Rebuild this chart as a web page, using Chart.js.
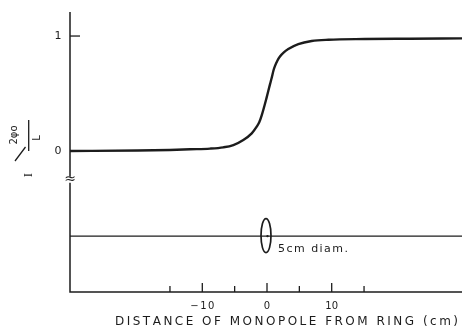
<!DOCTYPE html>
<html><head><meta charset="utf-8">
<script src="https://cdn.jsdelivr.net/npm/chart.js@4.4.1/dist/chart.umd.min.js"></script>
<style>html,body{margin:0;padding:0;background:#fff;}canvas{display:block;}</style>
</head><body>
<canvas id="c" width="464" height="329"></canvas>
<script>
// ---- data ----
const curveX = [-30.45, -20, -15, -11.9, -8.8, -6.75, -5.2, -3.66, -2.36, -1.59, -1.2, -0.82, -0.05, 0.46, 0.73, 1.0, 1.24, 1.6, 2.0, 2.6, 3.29, 4.84, 6.9, 9.5, 15.1, 22, 30.14];
const curveY = [0.0, 0.004, 0.009, 0.015, 0.021, 0.032, 0.052, 0.096, 0.154, 0.212, 0.25, 0.31, 0.467, 0.58, 0.637, 0.70, 0.74, 0.785, 0.822, 0.858, 0.887, 0.93, 0.957, 0.968, 0.974, 0.977, 0.98];
const ringLineX = [-30.45, 30.14];
const ringLineY = [-0.74, -0.74];
const ringCenterX = 0;
const ringDiameterCm = 5;
const xMajorTicks = [-10, 0, 10];
const xMajorLabels = ['\u221210', '0', '10'];
const xMinorTicks = [-15, -5, 5, 15];
const yTicks = [1, 0];
const yTickLabels = ['1', '0'];
const yBreakValue = -0.25;
const xTitle = 'DISTANCE OF MONOPOLE FROM RING (cm)';
const ringLabel = '5cm diam.';

const INK = '#1c1c1c';
const X_MIN = -30.45, X_MAX = 30.14, Y_MIN = -1.226, Y_MAX = 1.209;
const FONT = '"DejaVu Sans", "Liberation Sans", sans-serif';

function spacedText(ctx, text, left, cy, width) {
  const ws = [...text].map(ch => ctx.measureText(ch).width);
  const total = ws.reduce((a, b) => a + b, 0);
  const sp = text.length > 1 ? (width - total) / (text.length - 1) : 0;
  let x = left;
  ctx.textAlign = 'left';
  ctx.textBaseline = 'middle';
  [...text].forEach((ch, i) => { ctx.fillText(ch, x, cy); x += ws[i] + sp; });
}

const decor = {
  id: 'decor',
  beforeDatasetsDraw(chart) {
    const ctx = chart.ctx, xs = chart.scales.x, ys = chart.scales.y;
    const x0 = xs.getPixelForValue(X_MIN), x1 = xs.getPixelForValue(X_MAX);
    const yb = ys.getPixelForValue(Y_MIN), yt = ys.getPixelForValue(Y_MAX);
    ctx.save();
    ctx.strokeStyle = INK; ctx.lineWidth = 1.5; ctx.lineCap = 'butt';
    ctx.beginPath(); ctx.moveTo(x0, yt); ctx.lineTo(x0, yb); ctx.lineTo(x1, yb); ctx.stroke();
    ctx.lineWidth = 1.3;
    xMajorTicks.forEach(v => { const p = xs.getPixelForValue(v); ctx.beginPath(); ctx.moveTo(p, yb); ctx.lineTo(p, yb - 9); ctx.stroke(); });
    xMinorTicks.forEach(v => { const p = xs.getPixelForValue(v); ctx.beginPath(); ctx.moveTo(p, yb); ctx.lineTo(p, yb - 6); ctx.stroke(); });
    yTicks.forEach(v => { const p = ys.getPixelForValue(v); ctx.beginPath(); ctx.moveTo(x0, p); ctx.lineTo(x0 + 10, p); ctx.stroke(); });
    ctx.restore();
  },
  afterDraw(chart) {
    const ctx = chart.ctx, xs = chart.scales.x, ys = chart.scales.y;
    const x0 = xs.getPixelForValue(X_MIN), yb = ys.getPixelForValue(Y_MIN);
    ctx.save();
    ctx.fillStyle = INK; ctx.strokeStyle = INK;
    // ring ellipse
    const cx = xs.getPixelForValue(ringCenterX), cy = ys.getPixelForValue(ringLineY[0]);
    const ry = (xs.getPixelForValue(ringDiameterCm) - xs.getPixelForValue(0)) / 2 + 0.8;
    ctx.lineWidth = 1.7;
    ctx.beginPath(); ctx.ellipse(cx - 1, cy - 0.5, 5, ry, 0, 0, Math.PI * 2); ctx.stroke();
    ctx.beginPath(); ctx.arc(cx + 0.5, cy, 1.2, 0, Math.PI * 2); ctx.fill();
    ctx.font = '11px ' + FONT;
    spacedText(ctx, ringLabel, cx + 11, cy + 13, 70);
    // x tick labels
    ctx.font = '10px ' + FONT;
    xMajorTicks.forEach((v, i) => {
      const p = xs.getPixelForValue(v), t = xMajorLabels[i];
      const w = t.length === 3 ? 24 : (t.length === 2 ? 13 : ctx.measureText(t).width);
      spacedText(ctx, t, p - w / 2, yb + 14, w);
    });
    // x title
    ctx.font = '12px ' + FONT;
    spacedText(ctx, xTitle, 115, yb + 30, 343);
    // y tick labels
    ctx.font = '11px ' + FONT;
    ctx.textAlign = 'center'; ctx.textBaseline = 'middle';
    yTicks.forEach((v, i) => ctx.fillText(yTickLabels[i], x0 - 12, ys.getPixelForValue(v)));
    // axis break mark
    const pb = ys.getPixelForValue(yBreakValue);
    ctx.fillStyle = '#fff'; ctx.fillRect(x0 - 5, pb - 3, 10, 6);
    ctx.fillStyle = INK;
    ctx.font = '14px ' + FONT;
    ctx.textAlign = 'center'; ctx.textBaseline = 'middle';
    ctx.fillText('\u2248', x0, pb);
    // y title: I / (2φo / L), rotated
    const rot = (txt, x, y, font) => { ctx.save(); ctx.translate(x, y); ctx.rotate(-Math.PI / 2); ctx.font = font; ctx.textAlign = 'center'; ctx.textBaseline = 'middle'; ctx.fillText(txt, 0, 0); ctx.restore(); };
    rot('I', 29, 175, '13px "Liberation Serif", serif');
    ctx.lineWidth = 1.3;
    ctx.beginPath(); ctx.moveTo(15, 161); ctx.lineTo(25.5, 147); ctx.stroke();
    rot('2\u03c6o', 14, 135, '10px ' + FONT);
    ctx.beginPath(); ctx.moveTo(28.7, 120); ctx.lineTo(28.7, 151); ctx.stroke();
    rot('L', 37.5, 138, '10px ' + FONT);
    ctx.restore();
  }
};

new Chart(document.getElementById('c'), {
  type: 'scatter',
  data: {
    datasets: [
      { data: curveX.map((x, i) => ({ x, y: curveY[i] })), showLine: true, borderColor: INK, borderWidth: 2.4, pointRadius: 0, cubicInterpolationMode: 'monotone' },
      { data: ringLineX.map((x, i) => ({ x, y: ringLineY[i] })), showLine: true, borderColor: INK, borderWidth: 1.4, pointRadius: 0 }
    ]
  },
  options: {
    responsive: false, animation: false, devicePixelRatio: 1,
    layout: { padding: { left: 70, right: 2, top: 12, bottom: 37 } },
    plugins: { legend: { display: false }, tooltip: { enabled: false } },
    scales: {
      x: { type: 'linear', display: false, min: X_MIN, max: X_MAX },
      y: { type: 'linear', display: false, min: Y_MIN, max: Y_MAX }
    }
  },
  plugins: [decor]
});
</script>
</body></html>
